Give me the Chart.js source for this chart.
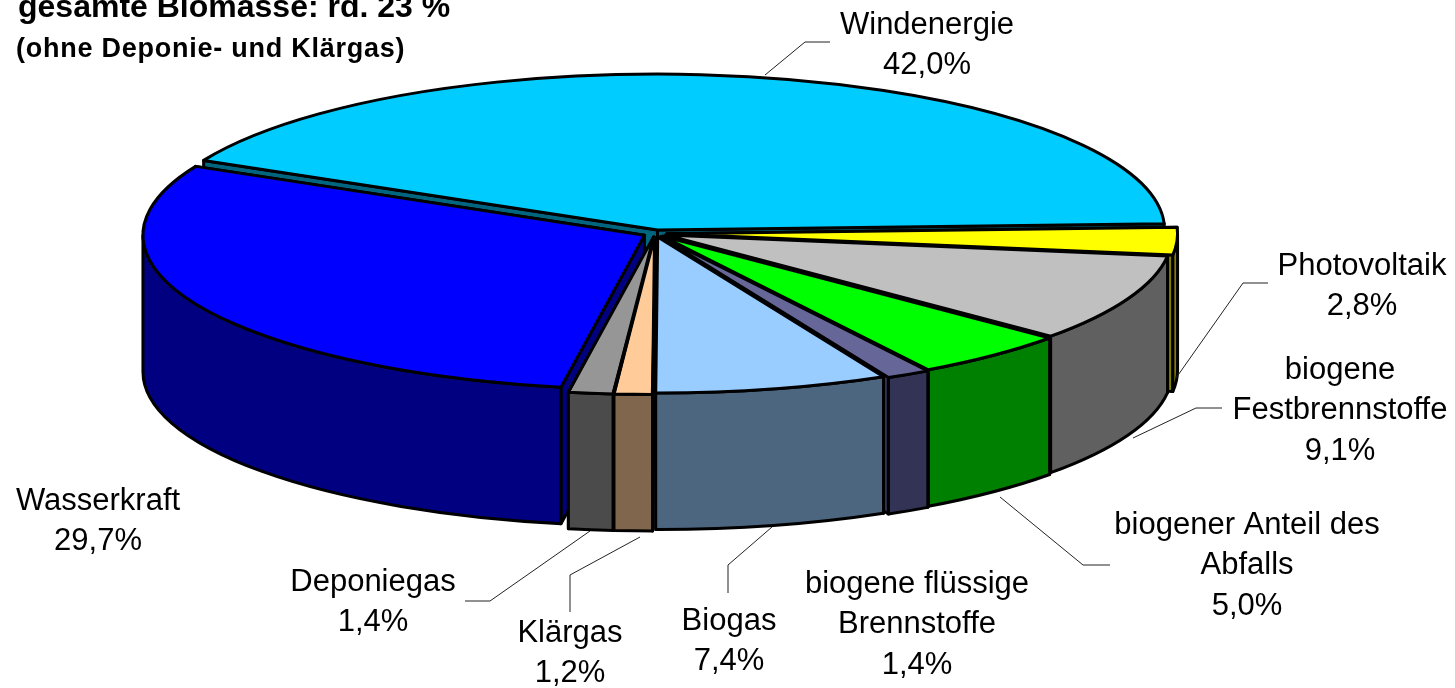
<!DOCTYPE html>
<html>
<head>
<meta charset="utf-8">
<title>Biomasse</title>
<script src="https://cdn.jsdelivr.net/npm/chart.js@4"></script>
<style>
  html, body { margin: 0; padding: 0; background: #fff; overflow: hidden; }
  canvas { display: block; }
</style>
</head>
<body>
<canvas id="pie" width="1455" height="688"></canvas>
<script>
// Daten
var categories = ['Windenergie', 'Photovoltaik', 'biogene Festbrennstoffe', 'biogener Anteil des Abfalls',
  'biogene flüssige Brennstoffe', 'Biogas', 'Klärgas', 'Deponiegas', 'Wasserkraft'];
var shares = [42.0, 2.8, 9.1, 5.0, 1.4, 7.4, 1.2, 1.4, 29.7];
var topColors = ['#00CCFF', '#FFFF00', '#C0C0C0', '#00FF00', '#666699', '#99CCFF', '#FFCC99', '#969696', '#0000FF'];
var wallColors = ['#006680', '#808000', '#606060', '#008000', '#333355', '#4D6680', '#80664D', '#4B4B4B', '#000080'];
var titleLines = ['gesamte Biomasse: rd. 23 %', '(ohne Deponie- und Klärgas)'];

// Beschriftung: Zeilen, Mitte x, Mitte y der ersten Zeile, Fuehrungslinie
var labelLayout = [
  { lines: ['Windenergie'], x: 927, y: 25, leader: [[765, 75], [805, 42], [830, 42]] },
  { lines: ['Photovoltaik'], x: 1362, y: 266, leader: [[1176, 378], [1243, 283], [1268, 283]] },
  { lines: ['biogene', 'Festbrennstoffe'], x: 1340, y: 370, leader: [[1133, 438], [1196, 408], [1222, 408]] },
  { lines: ['biogener Anteil des', 'Abfalls'], x: 1247, y: 525, leader: [[1000, 497], [1083, 565], [1110, 565]] },
  { lines: ['biogene flüssige', 'Brennstoffe'], x: 917, y: 584, leader: null },
  { lines: ['Biogas'], x: 729, y: 621, leader: [[772, 527], [728, 565], [728, 593]] },
  { lines: ['Klärgas'], x: 570, y: 633, leader: [[640, 537], [570, 575], [570, 612]] },
  { lines: ['Deponiegas'], x: 373, y: 582, leader: [[590, 531], [490, 601], [465, 601]] },
  { lines: ['Wasserkraft'], x: 98, y: 501, leader: null }
];

// 3D-Optik
var CX = 655, CY = 233.5, RX = 501, RY = 154, DEPTH = 136.5;
var SLICE_OFFSET = 31;

function geo(el) {
  var off = SLICE_OFFSET / 4;
  var half = (el.startAngle + el.endAngle) / 2;
  var fix = 1 - Math.sin(Math.min(Math.PI, el.circumference));
  var sx = RX / el.outerRadius, sy = RY / el.outerRadius;
  var r = el.outerRadius + off * fix;
  return {
    x: CX + Math.cos(half) * off * sx,
    y: CY + Math.sin(half) * off * sy,
    rx: r * sx,
    ry: r * sy,
    start: el.startAngle,
    end: el.endAngle,
    half: half
  };
}

function face(ctx, g, angle) {
  var px = g.x + Math.cos(angle) * g.rx;
  var py = g.y + Math.sin(angle) * g.ry;
  ctx.beginPath();
  ctx.moveTo(g.x, g.y);
  ctx.lineTo(px, py);
  ctx.lineTo(px, py + DEPTH);
  ctx.lineTo(g.x, g.y + DEPTH);
  ctx.closePath();
  ctx.fill();
  ctx.stroke();
}

var pie3d = {
  id: 'pie3d',
  beforeDatasetsDraw: function (chart) {
    var ctx = chart.ctx;
    var arcs = chart.getDatasetMeta(0).data;
    var order = arcs.map(function (el, i) { return { g: geo(el), i: i }; });
    // von hinten nach vorne
    order.sort(function (a, b) { return Math.sin(a.g.half) - Math.sin(b.g.half); });
    ctx.save();
    ctx.strokeStyle = '#000';
    ctx.lineWidth = 3;
    ctx.lineJoin = 'round';
    order.forEach(function (o) {
      var g = o.g;
      ctx.fillStyle = wallColors[o.i];
      // die hintere Schnittflaeche zuerst
      if (Math.sin(g.start) < Math.sin(g.end)) {
        face(ctx, g, g.start);
        face(ctx, g, g.end);
      } else {
        face(ctx, g, g.end);
        face(ctx, g, g.start);
      }
      var a0 = Math.max(g.start, 0), a1 = Math.min(g.end, Math.PI);
      if (a1 > a0) {
        ctx.beginPath();
        ctx.ellipse(g.x, g.y, g.rx, g.ry, 0, a0, a1);
        ctx.ellipse(g.x, g.y + DEPTH, g.rx, g.ry, 0, a1, a0, true);
        ctx.closePath();
        ctx.fill();
        ctx.stroke();
      }
    });
    ctx.restore();
  },
  // Deckflaechen: Chart.js zeichnet den Kreis, hier nur gestaucht
  beforeDatasetDraw: function (chart) {
    var ctx = chart.ctx;
    var el = chart.getDatasetMeta(0).data[0];
    ctx.save();
    ctx.translate(CX, CY);
    ctx.scale(RX / el.outerRadius, RY / el.outerRadius);
    ctx.translate(-el.x, -el.y);
  },
  afterDatasetDraw: function (chart) {
    chart.ctx.restore();
  },
  afterDatasetsDraw: function (chart) {
    var ctx = chart.ctx;
    ctx.save();
    ctx.strokeStyle = '#000';
    ctx.lineWidth = 3;
    ctx.lineJoin = 'round';
    chart.getDatasetMeta(0).data.forEach(function (el) {
      var g = geo(el);
      ctx.beginPath();
      ctx.moveTo(g.x, g.y);
      ctx.ellipse(g.x, g.y, g.rx, g.ry, 0, g.start, g.end);
      ctx.closePath();
      ctx.stroke();
    });
    ctx.restore();
  },
  afterDraw: function (chart) {
    var ctx = chart.ctx;
    ctx.save();
    ctx.textBaseline = 'middle';

    ctx.fillStyle = '#000';
    ctx.textAlign = 'left';
    ctx.font = 'bold 32px "Liberation Sans", Arial, sans-serif';
    ctx.fillText(titleLines[0], 18, 8);
    ctx.font = 'bold 27px "Liberation Sans", Arial, sans-serif';
    ctx.letterSpacing = '0.75px';
    ctx.fillText(titleLines[1], 16, 50);
    ctx.letterSpacing = '0px';

    ctx.strokeStyle = '#222';
    ctx.lineWidth = 1;
    labelLayout.forEach(function (lab, i) {
      if (lab.leader) {
        ctx.beginPath();
        lab.leader.forEach(function (p, k) {
          if (k === 0) ctx.moveTo(p[0], p[1]); else ctx.lineTo(p[0], p[1]);
        });
        ctx.stroke();
      }
      ctx.textAlign = 'center';
      ctx.font = '31px "Liberation Sans", Arial, sans-serif';
      var text = lab.lines.concat([shares[i].toFixed(1).replace('.', ',') + '%']);
      text.forEach(function (t, k) {
        ctx.fillText(t, lab.x, lab.y + k * 40.5);
      });
    });
    ctx.restore();
  }
};

var chart = new Chart(document.getElementById('pie').getContext('2d'), {
  type: 'pie',
  data: {
    labels: categories,
    datasets: [{
      data: shares,
      backgroundColor: topColors,
      borderWidth: 0,
      offset: SLICE_OFFSET,
      clip: false
    }]
  },
  options: {
    responsive: false,
    animation: false,
    rotation: -63.5,
    plugins: { legend: { display: false }, title: { display: false }, tooltip: { enabled: false } }
  },
  plugins: [pie3d]
});
</script>
</body>
</html>
